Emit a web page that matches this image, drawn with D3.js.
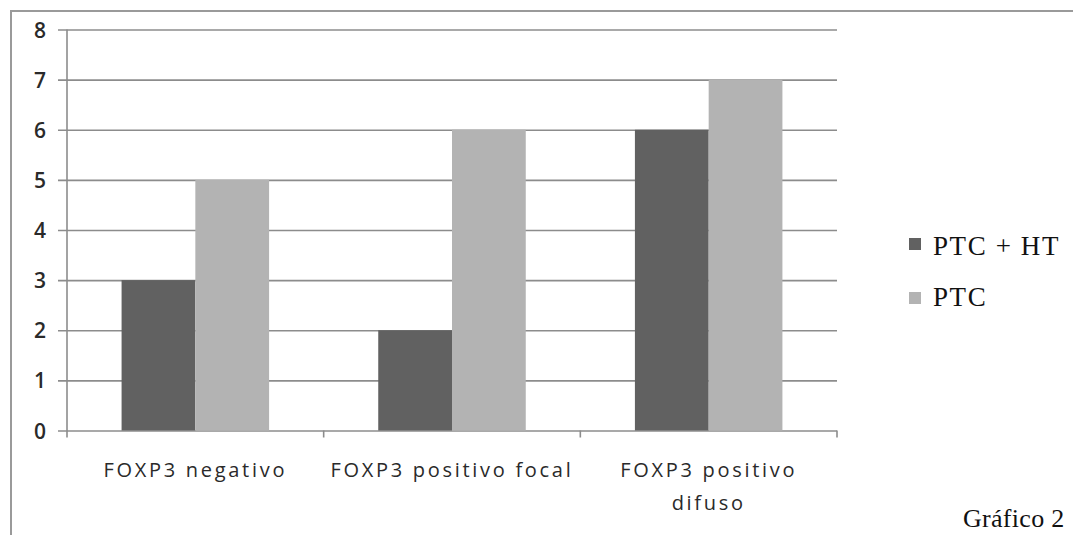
<!DOCTYPE html>
<html>
<head>
<meta charset="utf-8">
<script src="https://cdn.jsdelivr.net/npm/d3@7"></script>
<style>
  body { margin: 0; background: #fff; }
  svg { display: block; }
</style>
</head>
<body>
<svg></svg>
<script>
// data
let categories = ['FOXP3 negativo', 'FOXP3 positivo focal', 'FOXP3 positivo difuso']
let categoryLines = [['FOXP3 negativo'], ['FOXP3 positivo focal'], ['FOXP3 positivo', 'difuso']]
let seriesNames = ['PTC + HT', 'PTC']
let ptcHt = [3, 2, 6]
let ptc = [5, 6, 7]
let yTicks = [0, 1, 2, 3, 4, 5, 6, 7, 8]
let caption = 'Gráfico 2'

let width = 1073
let height = 535
let colors = ['#616161', '#b3b3b3']
let gridColor = '#8c8c8c'

let svg = d3.select('svg')
let plotLeft = 67, plotRight = 837, plotTop = 29.5, plotBottom = 430.5

let drawCanvas = () => {
    svg.attr('width', width).attr('height', height)
    svg.append('rect').attr('width', width).attr('height', height).attr('fill', '#fff')
    // frame (only top and left edges are visible in the picture)
    svg.append('line').attr('x1', 10).attr('x2', width).attr('y1', 11).attr('y2', 11)
        .attr('stroke', '#9a9a9a').attr('stroke-width', 2)
    svg.append('line').attr('x1', 11).attr('x2', 11).attr('y1', 10).attr('y2', height)
        .attr('stroke', '#9a9a9a').attr('stroke-width', 2)
}

let xScale, innerScale, yScale
let generateScales = () => {
    xScale = d3.scaleBand().domain(categories).range([plotLeft, plotRight]).padding(0)
    innerScale = d3.scaleBand().domain(seriesNames).range([0, xScale.bandwidth()])
        .paddingInner(0).paddingOuter(0.74)
    yScale = d3.scaleLinear().domain([0, 8]).range([plotBottom, plotTop])
}

let generateAxes = () => {
    let yAxis = d3.axisLeft(yScale)
        .tickValues(yTicks)
        .tickSize(-(plotRight - plotLeft + 9))
        .tickPadding(12)
    let gy = svg.append('g')
        .attr('transform', 'translate(' + (plotLeft - 9) + ',0)')
        .call(yAxis)
    gy.select('.domain').remove()
    gy.selectAll('line').attr('stroke', gridColor).attr('stroke-width', 1.6)
    gy.selectAll('text')
        .attr('font-family', '"Open Sans", sans-serif')
        .attr('font-size', 21)
        .attr('font-weight', 600)
        .attr('fill', '#2a2a2a')
        .attr('dy', '0.36em')

    // vertical axis line
    svg.append('line')
        .attr('x1', plotLeft).attr('x2', plotLeft)
        .attr('y1', yScale(8)).attr('y2', plotBottom + 7)
        .attr('stroke', gridColor).attr('stroke-width', 1.6)

    // category boundary ticks
    let edges = categories.map(c => xScale(c)).concat([xScale.range()[1]])
    svg.selectAll('.cat-tick').data(edges.slice(1)).enter().append('line')
        .attr('class', 'cat-tick')
        .attr('x1', d => d).attr('x2', d => d)
        .attr('y1', plotBottom).attr('y2', plotBottom + 7)
        .attr('stroke', gridColor).attr('stroke-width', 1.6)

    // category labels
    let labels = svg.selectAll('.cat-label').data(categories).enter().append('text')
        .attr('class', 'cat-label')
        .attr('x', d => xScale(d) + xScale.bandwidth() / 2)
        .attr('y', plotBottom + 46)
        .attr('text-anchor', 'middle')
        .attr('font-family', '"Open Sans", sans-serif')
        .attr('font-size', 20)
        .attr('letter-spacing', 2.7)
        .attr('fill', '#2a2a2a')
    labels.each(function (d, i) {
        let t = d3.select(this)
        categoryLines[i].forEach((line, j) => {
            t.append('tspan')
                .attr('x', xScale(d) + xScale.bandwidth() / 2)
                .attr('dy', j === 0 ? 0 : 33)
                .text(line)
        })
    })
}

let drawBars = () => {
    let seriesValues = [ptcHt, ptc]
    seriesNames.forEach((name, s) => {
        svg.selectAll('.bar-' + s)
            .data(categories)
            .enter()
            .append('rect')
            .attr('class', 'bar-' + s)
            .attr('x', d => xScale(d) + innerScale(name))
            .attr('width', innerScale.bandwidth())
            .attr('y', (d, i) => yScale(seriesValues[s][i]))
            .attr('height', (d, i) => yScale(0) - yScale(seriesValues[s][i]))
            .attr('fill', colors[s])
    })
}

let drawLegend = () => {
    let legend = svg.append('g')
    seriesNames.forEach((name, i) => {
        let y = 244 + i * 54
        legend.append('rect')
            .attr('x', 909).attr('y', y - 6)
            .attr('width', 12).attr('height', 12)
            .attr('fill', colors[i])
        legend.append('text')
            .attr('x', 933).attr('y', y + 11 - i * 3)
            .attr('font-family', '"Liberation Serif", "Times New Roman", serif')
            .attr('font-size', 27)
            .attr('letter-spacing', 1.6)
            .attr('fill', '#111')
            .text(name)
    })
    svg.append('text')
        .attr('x', 963).attr('y', 527)
        .attr('font-family', '"Liberation Serif", "Times New Roman", serif')
        .attr('font-size', 26)
        .attr('letter-spacing', 0.3)
        .attr('fill', '#111')
        .text(caption)
}

drawCanvas()
generateScales()
generateAxes()
drawBars()
drawLegend()
</script>
</body>
</html>
